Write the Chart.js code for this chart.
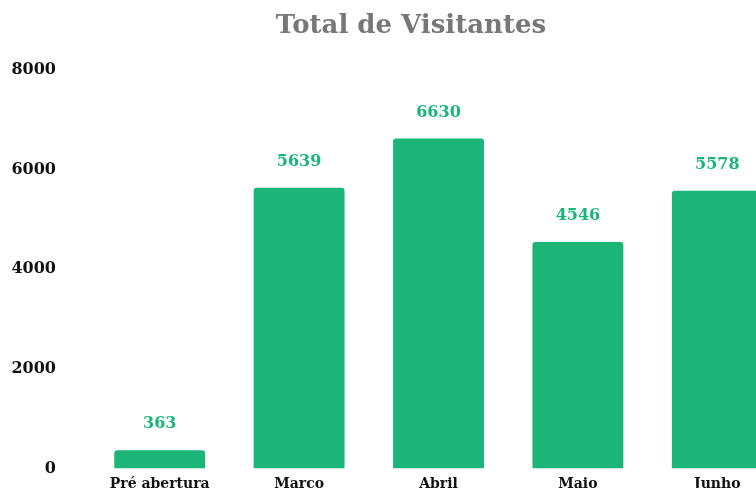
<!DOCTYPE html>
<html>
<head>
<meta charset="utf-8">
<script src="https://cdn.jsdelivr.net/npm/chart.js@4/dist/chart.umd.min.js"></script>
<style>
  html, body { margin: 0; padding: 0; background: #fff; overflow: hidden; }
  #wrap { width: 822px; height: 512px; }
</style>
</head>
<body>
<div id="wrap"><canvas id="visitantes" width="822" height="512"></canvas></div>
<script>
var meses = ["Pré abertura", "Marco", "Abril", "Maio", "Junho"];
var visitantes = [363, 5639, 6630, 4546, 5578];
var yTicks = [0, 2000, 4000, 6000, 8000];

var serif = "'DejaVu Serif', Georgia, serif";
var verde = "#1bb57a";

// numbers above the bars
var valoresPlugin = {
    id: 'valores',
    afterDatasetsDraw: function (chart) {
        var ctx = chart.ctx;
        var meta = chart.getDatasetMeta(0);
        ctx.save();
        ctx.fillStyle = verde;
        ctx.font = "bold 16px " + serif;
        ctx.textAlign = 'center';
        ctx.textBaseline = 'middle';
        meta.data.forEach(function (bar, i) {
            ctx.fillText(String(visitantes[i]), bar.x, bar.y - 26);
        });
        ctx.restore();
    }
};

var ctx = document.getElementById('visitantes').getContext('2d');
var chart = new Chart(ctx, {
    type: 'bar',
    data: {
        labels: meses,
        datasets: [{
            label: "Total de Visitantes",
            backgroundColor: verde,
            borderRadius: 3,
            borderSkipped: 'bottom',
            categoryPercentage: 0.652,
            barPercentage: 1,
            data: visitantes
        }]
    },
    options: {
        responsive: false,
        animation: false,
        layout: { padding: { left: 10, right: 10, top: 0, bottom: 6 } },
        plugins: {
            legend: { display: false },
            tooltip: { enabled: false },
            title: {
                display: true,
                text: "Total de Visitantes",
                color: "#777777",
                font: { family: serif, size: 26, weight: 'bold' },
                padding: { top: 11, bottom: 28 }
            }
        },
        scales: {
            x: {
                grid: { display: false, drawTicks: false },
                border: { display: false },
                ticks: {
                    color: "#111",
                    padding: 8,
                    font: { family: serif, size: 14, weight: 'bold' }
                }
            },
            y: {
                min: 0,
                max: 8000,
                afterFit: function (scale) { scale.width = 80; },
                afterBuildTicks: function (scale) {
                    scale.ticks = yTicks.map(function (v) { return { value: v }; });
                },
                grid: { display: false, drawTicks: false },
                border: { display: false },
                ticks: {
                    color: "#111",
                    padding: 34,
                    font: { family: serif, size: 16, weight: 'bold' },
                    callback: function (value) { return String(value); }
                }
            },
            // empty spacer on the right
            direita: {
                type: 'linear',
                position: 'right',
                min: 0,
                max: 8000,
                afterFit: function (scale) { scale.width = 25; },
                grid: { display: false, drawTicks: false },
                border: { display: false },
                ticks: { display: false }
            }
        }
    },
    plugins: [valoresPlugin]
});
</script>
</body>
</html>
